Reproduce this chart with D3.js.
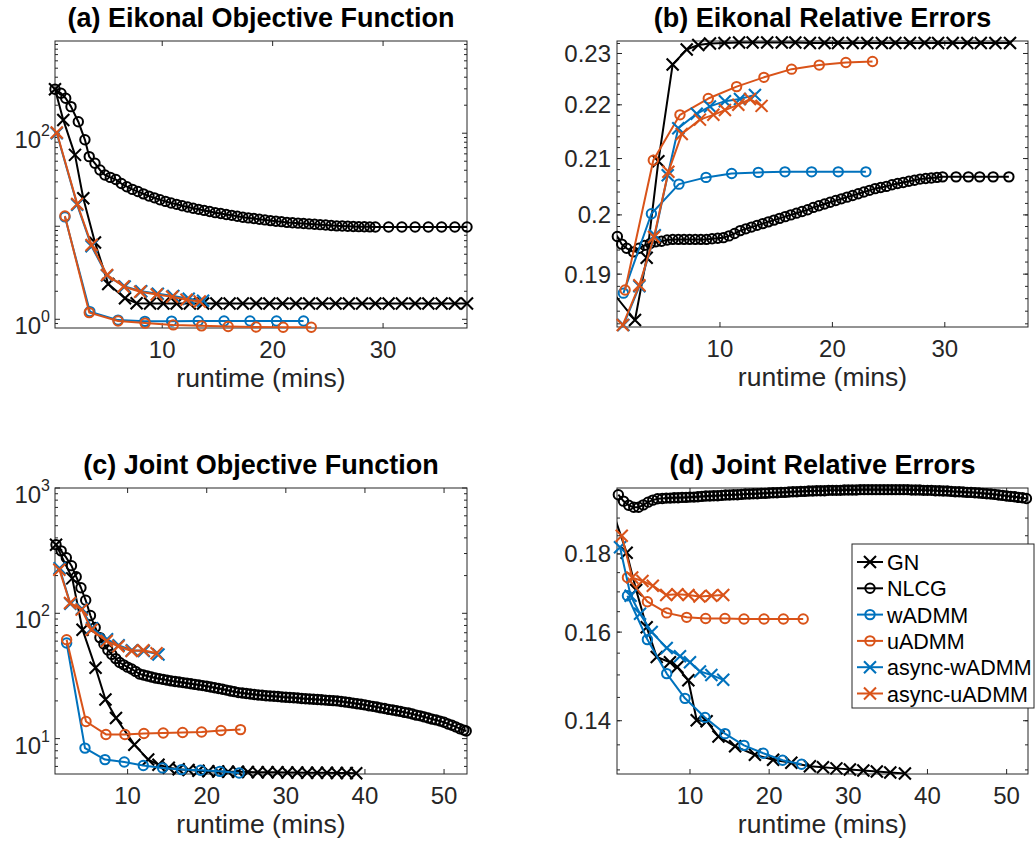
<!DOCTYPE html>
<html>
<head>
<meta charset="utf-8">
<script src="https://cdn.jsdelivr.net/npm/d3@7"></script>
<style>
  body { margin: 0; background: #ffffff; }
  svg { font-family: "Liberation Sans", Arial, Helvetica, sans-serif; }
</style>
</head>
<body>
<div id="chart"></div>
<script>
// ---- series names / legend order ----
const seriesNames = ["GN", "NLCG", "wADMM", "uADMM", "async-wADMM", "async-uADMM"];

// ---- (a) Eikonal objective function : [runtime mins, value] ----
const aGN = [[0.29,297],[1.04,139],[2.10,58.5],[2.85,20],[3.91,6.7],[5.11,2.4],[6.63,1.68],[7.68,1.49],
  [8.9,1.48],[10.1,1.48],[11.3,1.48],[12.5,1.48],[13.7,1.48],[14.9,1.48],[16.1,1.48],[17.3,1.48],
  [18.5,1.48],[19.7,1.48],[20.9,1.48],[22.1,1.48],[23.3,1.48],[24.5,1.48],[25.7,1.48],[26.9,1.48],
  [28.1,1.48],[29.3,1.48],[30.5,1.48],[31.7,1.48],[32.9,1.48],[34.1,1.48],[35.3,1.48],[36.5,1.48],[37.6,1.48]];
const aNLCG = [[0.29,297],[0.83,269],[1.26,238],[1.74,193],[2.40,133],[3.00,85],[3.39,56],[3.91,47.5],
  [4.36,40.3],[4.81,35.6],[5.3,33.5],[5.8,31.8],[6.3,28.8],[6.8,26.6],[7.3,24.9],[7.8,23.6],[8.3,22.3],
  [8.8,21.1],[9.3,20.2],[9.8,19.3],[10.3,18.5],[10.8,17.8],[11.3,17.2],[11.8,16.6],[12.3,16.1],[12.8,15.6],
  [13.3,15.2],[13.8,14.8],[14.3,14.4],[14.8,14.0],[15.3,13.7],[15.8,13.4],[16.3,13.1],[16.8,12.8],
  [17.3,12.5],[17.8,12.3],[18.3,12.1],[18.8,11.9],[19.3,11.7],[19.8,11.5],[20.3,11.3],[20.8,11.2],
  [21.3,11.0],[21.8,10.9],[22.3,10.8],[22.8,10.7],[23.3,10.6],[23.8,10.5],[24.3,10.4],[24.8,10.3],
  [25.3,10.2],[25.8,10.1],[26.3,10.05],[26.8,10.0],[27.3,9.95],[27.8,9.9],[28.3,9.88],[28.8,9.85],
  [29.3,9.82],[30.5,9.8],[31.7,9.8],[32.9,9.8],[34.1,9.8],[35.3,9.8],[36.5,9.8],[37.6,9.8]];
const aWADMM = [[1.19,12.6],[3.45,1.21],[6.0,0.98],[8.43,0.95],[10.85,0.955],[13.26,0.96],[15.6,0.96],
  [17.95,0.96],[20.35,0.96],[22.8,0.96]];
const aUADMM = [[1.19,12.9],[3.39,1.18],[6.0,0.96],[8.45,0.91],[11.0,0.87],[13.56,0.85],[15.97,0.835],
  [18.5,0.825],[20.95,0.82],[23.5,0.82]];
const aAsyncW = [[0.45,100],[2.3,17],[3.6,6.1],[5.0,2.95],[6.6,2.25],[8.1,2.0],[9.6,1.88],[11.0,1.78],
  [12.4,1.66],[13.7,1.58]];
const aAsyncU = [[0.45,102],[2.3,17.4],[3.6,6.3],[5.0,3.0],[6.5,2.25],[8.0,1.98],[9.5,1.85],[10.9,1.75],
  [12.2,1.62],[13.4,1.55]];

// ---- (b) Eikonal relative errors ----
const bGN = [[0.29,0.1874],[2.44,0.1826],[3.48,0.1927],[4.52,0.2095],[5.79,0.2278],[7.04,0.2308],
  [8.07,0.2317],[9.11,0.2320],[10.4,0.2321],[11.7,0.2322],[12.9,0.2322],[14.2,0.2322],[15.5,0.2322],
  [16.7,0.2322],[18.0,0.2321],[19.3,0.2321],[20.5,0.2321],[21.8,0.2321],[23.1,0.2321],[24.4,0.2321],
  [25.6,0.2321],[26.9,0.2321],[28.2,0.2321],[29.4,0.2321],[30.7,0.2321],[32.0,0.2321],[33.2,0.2321],
  [34.5,0.2321],[35.8,0.2321]];
const bNLCG = [[0.29,0.1975],[0.87,0.1963],[1.26,0.1950],[1.7,0.1943],[2.3,0.1937],[2.8,0.1943],
  [3.3,0.1948],[3.8,0.1951],[4.3,0.1954],[4.8,0.1955],[5.3,0.1957],[5.8,0.1958],[6.3,0.1958],[6.8,0.1958],
  [7.3,0.1958],[7.8,0.1958],[8.3,0.1958],[8.8,0.1958],[9.3,0.1959],[9.8,0.1960],[10.3,0.1961],[10.8,0.1964],
  [11.3,0.1968],[11.8,0.1973],[12.3,0.1976],[12.8,0.1979],[13.3,0.1982],[13.8,0.1985],[14.3,0.1988],
  [14.8,0.1991],[15.3,0.1994],[15.8,0.1997],[16.3,0.2000],[16.8,0.2003],[17.3,0.2006],[17.8,0.2009],
  [18.3,0.2013],[18.8,0.2016],[19.3,0.2019],[19.8,0.2022],[20.3,0.2025],[20.8,0.2028],[21.3,0.2031],
  [21.8,0.2034],[22.3,0.2037],[22.8,0.2040],[23.3,0.2043],[23.8,0.2046],[24.3,0.2048],[24.8,0.2050],
  [25.3,0.2053],[25.8,0.2055],[26.3,0.2057],[26.8,0.2059],[27.3,0.2061],[27.8,0.2063],[28.3,0.2064],
  [28.8,0.2065],[29.3,0.2066],[29.8,0.2067],[31.0,0.2067],[32.1,0.2067],[33.1,0.2067],[34.3,0.2067],
  [35.7,0.2067]];
const bWADMM = [[1.41,0.1869],[3.9,0.2002],[6.35,0.2054],[8.76,0.2066],[11.04,0.2073],[13.41,0.2075],
  [15.78,0.2076],[18.15,0.2076],[20.52,0.2076],[22.98,0.2076]];
const bUADMM = [[1.56,0.1874],[4.07,0.2097],[6.44,0.2181],[8.96,0.2212],[11.48,0.2235],[13.91,0.2253],
  [16.37,0.2269],[18.83,0.2277],[21.2,0.2282],[23.57,0.2284]];
const bAsyncW = [[1.41,0.1818],[2.83,0.1880],[4.2,0.1965],[5.35,0.2070],[6.29,0.2156],[7.93,0.2183],
  [9.11,0.2197],[10.44,0.2207],[11.78,0.2211],[13.11,0.2219]];
const bAsyncU = [[1.35,0.1818],[2.83,0.1882],[4.13,0.1962],[5.41,0.2076],[6.6,0.2145],[8.22,0.2172],
  [9.41,0.2181],[10.44,0.2190],[11.63,0.2200],[12.67,0.2211],[13.7,0.2198]];

// ---- (c) Joint objective function ----
const cGN = [[0.95,353],[3.0,190],[4.3,74],[5.95,36.7],[7.2,20.5],[8.53,14.6],[10.85,8.95],[12.6,6.8],
  [13.9,6.2],[15.2,5.85],[16.45,5.7],[17.7,5.62],[18.95,5.55],[20.2,5.5],[21.45,5.47],[22.7,5.45],
  [23.95,5.43],[25.2,5.41],[26.45,5.4],[27.7,5.39],[28.95,5.38],[30.2,5.37],[31.45,5.36],[32.7,5.35],
  [33.95,5.34],[35.2,5.33],[36.45,5.32],[37.7,5.31],[38.9,5.3]];
const cNLCG = [[0.95,353],[1.6,315],[2.25,278],[2.9,240],[3.5,196],[4.1,160],[4.7,127],[5.3,96],[5.9,77],
  [6.5,64],[7.0,57],[7.5,51],[8.0,47],[8.5,43.5],[9.0,40.5],[9.5,38.8],[10.0,37.2],[10.5,35.9],[11.0,34.4],
  [11.5,32.8],[12.0,32.2],[12.5,31.6],[13.0,31.0],[13.5,30.5],[14.0,30.1],[14.5,29.7],[15.0,29.3],
  [15.5,28.9],[16.0,28.6],[16.5,28.3],[17.0,28.0],[17.5,27.7],[18.0,27.4],[18.5,27.1],[19.0,26.8],
  [19.5,26.5],[20.0,26.2],[20.5,25.8],[21.0,25.5],[21.5,25.1],[22.0,24.8],[22.5,24.4],[23.0,24.0],
  [23.5,23.7],[24.0,23.3],[24.5,23.1],[25.0,22.9],[25.5,22.7],[26.0,22.5],[26.5,22.3],[27.0,22.2],
  [27.5,22.0],[28.0,21.9],[28.5,21.8],[29.0,21.7],[29.5,21.5],[30.0,21.4],[30.5,21.3],[31.0,21.2],
  [31.5,21.1],[32.0,20.9],[32.5,20.8],[33.0,20.7],[33.5,20.6],[34.0,20.5],[34.5,20.4],[35.0,20.3],
  [35.5,20.2],[36.0,20.1],[36.5,20.0],[37.0,19.8],[37.5,19.6],[38.0,19.4],[38.5,19.2],[39.0,19.0],
  [39.5,18.8],[40.0,18.6],[40.5,18.3],[41.0,18.1],[41.5,17.9],[42.0,17.6],[42.5,17.4],[43.0,17.1],
  [43.5,16.9],[44.0,16.7],[44.5,16.5],[45.0,16.2],[45.5,16.0],[46.0,15.7],[46.5,15.4],[47.0,15.2],
  [47.5,14.9],[48.0,14.6],[48.5,14.3],[49.0,14.1],[49.5,13.8],[50.0,13.5],[50.5,13.1],[51.0,12.8],
  [51.5,12.4],[52.0,12.0],[52.5,11.7],[52.8,11.5]];
const cWADMM = [[2.29,58],[4.61,8.4],[7.14,6.8],[9.58,6.5],[11.98,6.1],[14.42,5.84],[16.82,5.66],
  [19.22,5.59],[21.66,5.48],[24.1,5.32]];
const cUADMM = [[2.29,61.6],[4.74,13.7],[7.26,10.8],[9.66,10.8],[12.06,11.0],[14.5,11.1],[16.95,11.2],
  [19.35,11.3],[21.8,11.6],[24.27,11.8]];
const cAsyncW = [[1.4,229],[2.76,119],[4.23,109],[5.5,76],[7.4,62],[8.87,55.5],[10.55,50.8],[12.05,50],
  [13.9,47]];
const cAsyncU = [[1.37,223],[2.72,121],[4.19,107],[5.45,74],[7.35,60],[8.82,54.6],[10.5,50],[11.98,50.7],
  [13.66,48]];

// ---- (d) Joint relative errors ----
const dGN = [[0.6,0.1895],[2.0,0.1803],[3.2,0.1705],[4.53,0.1612],[5.8,0.1541],[7.47,0.1529],[8.4,0.1518],
  [9.79,0.1488],[10.85,0.1401],[12.1,0.1399],[13.6,0.1367],[15.7,0.1347],[18.2,0.1330],[20.5,0.1320],
  [22.8,0.1314],[25.15,0.1307],[26.8,0.1305],[28.5,0.1303],[30.2,0.1301],[31.9,0.1299],[33.6,0.1297],
  [35.3,0.1295],[37.15,0.1293]];
const dNLCG = [[0.95,0.1968],[1.6,0.1949],[2.25,0.1937],[2.9,0.1931],[3.5,0.1931],[4.1,0.1938],[4.7,0.1946],
  [5.3,0.1952],[5.9,0.1956],[6.5,0.1957],[7.0,0.1958],[7.5,0.1958],[8.0,0.1959],[8.5,0.1959],[9.0,0.1960],
  [9.5,0.1960],[10.0,0.1961],[10.5,0.1961],[11.0,0.1962],[11.5,0.1963],[12.0,0.1964],[12.5,0.1964],
  [13.0,0.1965],[13.5,0.1965],[14.0,0.1966],[14.5,0.1967],[15.0,0.1967],[15.5,0.1968],[16.0,0.1968],
  [16.5,0.1969],[17.0,0.1970],[17.5,0.1970],[18.0,0.1971],[18.5,0.1971],[19.0,0.1972],[19.5,0.1972],
  [20.0,0.1973],[20.5,0.1974],[21.0,0.1974],[21.5,0.1975],[22.0,0.1975],[22.5,0.1976],[23.0,0.1977],
  [23.5,0.1977],[24.0,0.1978],[24.5,0.1978],[25.0,0.1979],[25.5,0.1979],[26.0,0.1980],[26.5,0.1980],
  [27.0,0.1980],[27.5,0.1981],[28.0,0.1981],[28.5,0.1981],[29.0,0.1981],[29.5,0.1982],[30.0,0.1982],
  [30.5,0.1982],[31.0,0.1982],[31.5,0.1983],[32.0,0.1983],[32.5,0.1983],[33.0,0.1983],[33.5,0.1983],
  [34.0,0.1983],[34.5,0.1983],[35.0,0.1983],[35.5,0.1983],[36.0,0.1983],[36.5,0.1983],[37.0,0.1983],
  [37.5,0.1983],[38.0,0.1982],[38.5,0.1982],[39.0,0.1982],[39.5,0.1981],[40.0,0.1981],[40.5,0.1981],
  [41.0,0.1980],[41.5,0.1980],[42.0,0.1979],[42.5,0.1979],[43.0,0.1978],[43.5,0.1977],[44.0,0.1977],
  [44.5,0.1976],[45.0,0.1975],[45.5,0.1975],[46.0,0.1974],[46.5,0.1973],[47.0,0.1972],[47.5,0.1971],
  [48.0,0.1970],[48.5,0.1969],[49.0,0.1967],[49.5,0.1966],[50.0,0.1964],[50.5,0.1963],[51.0,0.1962],
  [51.5,0.1960],[52.0,0.1959],[52.5,0.1957],[52.8,0.1956]];
const dWADMM = [[2.1,0.1690],[4.62,0.1582],[7.06,0.1503],[9.37,0.1448],[11.9,0.1407],[14.42,0.1373],
  [16.82,0.1349],[19.26,0.1333],[21.7,0.1319],[24.1,0.1311]];
const dUADMM = [[2.1,0.1737],[4.62,0.1675],[7.06,0.1647],[9.58,0.1636],[11.98,0.1633],[14.42,0.1633],
  [16.82,0.1632],[19.35,0.1632],[21.8,0.1632],[24.3,0.1632]];
const dAsyncW = [[1.16,0.1818],[2.5,0.1690],[3.69,0.1645],[5.16,0.1600],[7.06,0.1562],[8.74,0.1543],
  [10.0,0.1529],[11.26,0.1508],[12.7,0.1500],[14.2,0.1489]];
const dAsyncU = [[1.38,0.1850],[2.7,0.1737],[4.0,0.1728],[5.3,0.1716],[7.0,0.1692],[8.4,0.1694],
  [9.8,0.1692],[11.2,0.1688],[12.7,0.1690],[14.2,0.1692]];

// ---- tick values ----
const xTicksEikonal = [10, 20, 30];
const xTicksJoint = [10, 20, 30, 40, 50];
const yTicksA = [1, 10, 100];          // labelled: 10^0, 10^2
const yTicksC = [10, 100, 1000];       // labelled: 10^1, 10^2, 10^3
const yTicksB = [0.19, 0.2, 0.21, 0.22, 0.23];
const yLabelsB = ["0.19", "0.2", "0.21", "0.22", "0.23"];
const yTicksD = [0.14, 0.16, 0.18];
const yLabelsD = ["0.14", "0.16", "0.18"];

// ---- styles ----
const colors = ["#000000", "#000000", "#0072BD", "#D95319", "#0072BD", "#D95319"];
const markers = ["x", "o", "o", "o", "x", "x"];
const axisColor = "#262626";

const W = 1036, H = 845;
const svg = d3.select("#chart").append("svg")
  .attr("width", W)
  .attr("height", H);

// log-axis minor ticks (2..9 x decade)
function logMinor(domain) {
  const out = [];
  for (let e = -2; e <= 4; e++) {
    for (let k = 2; k <= 9; k++) {
      const v = k * Math.pow(10, e);
      if (v >= domain[0] && v <= domain[1]) out.push(v);
    }
  }
  return out;
}
function stepMinor(domain, step) {
  const out = [];
  const start = Math.ceil(domain[0] / step - 1e-9);
  for (let i = start; i * step <= domain[1] + 1e-12; i++) out.push(+(i * step).toFixed(4));
  return out;
}

const panels = [
  { id: "a", title: "(a) Eikonal Objective Function",
    box: { left: 55, right: 467, top: 41, bottom: 328 },
    xDomain: [0.29, 37.6], yDomain: [0.806, 980], xTicks: xTicksEikonal,
    yTicks: yTicksA, yLabel: v => v === 10 ? null : ["10", String(Math.round(Math.log10(v)))],
    yMinor: logMinor([0.806, 980]),
    series: [aGN, aNLCG, aWADMM, aUADMM, aAsyncW, aAsyncU] },
  { id: "b", title: "(b) Eikonal Relative Errors",
    box: { left: 617, right: 1028, top: 41, bottom: 327 },
    xDomain: [0.84, 37.4], yDomain: [0.1815, 0.2325], xTicks: xTicksEikonal,
    yTicks: yTicksB, yLabel: (v, i) => yLabelsB[i],
    yMinor: stepMinor([0.1815, 0.2325], 0.002),
    series: [bGN, bNLCG, bWADMM, bUADMM, bAsyncW, bAsyncU] },
  { id: "c", title: "(c) Joint Objective Function",
    box: { left: 55, right: 467, top: 488, bottom: 774 },
    xDomain: [0.82, 52.9], yDomain: [5.22, 1000], xTicks: xTicksJoint,
    yTicks: yTicksC, yLabel: v => ["10", String(Math.round(Math.log10(v)))],
    yMinor: logMinor([5.22, 1000]),
    series: [cGN, cNLCG, cWADMM, cUADMM, cAsyncW, cAsyncU] },
  { id: "d", title: "(d) Joint Relative Errors",
    box: { left: 617, right: 1028, top: 488, bottom: 774 },
    xDomain: [0.78, 52.7], yDomain: [0.1292, 0.1988], xTicks: xTicksJoint,
    yTicks: yTicksD, yLabel: (v, i) => yLabelsD[i],
    yMinor: stepMinor([0.1292, 0.1988], 0.005),
    series: [dGN, dNLCG, dWADMM, dUADMM, dAsyncW, dAsyncU] }
];

function drawMarker(g, kind, color, cx, cy) {
  if (kind === "o") {
    g.append("circle")
      .attr("cx", cx).attr("cy", cy).attr("r", 4.7)
      .attr("fill", "none").attr("stroke", color).attr("stroke-width", 2);
  } else {
    const s = 6;
    g.append("path")
      .attr("d", `M${cx - s},${cy - s}L${cx + s},${cy + s}M${cx - s},${cy + s}L${cx + s},${cy - s}`)
      .attr("fill", "none").attr("stroke", color).attr("stroke-width", 2.1);
  }
}

panels.forEach(p => {
  const b = p.box;
  const x = d3.scaleLinear().domain(p.xDomain).range([b.left, b.right]);
  const y = d3.scaleLog().domain(p.yDomain).range([b.bottom, b.top]);

  const g = svg.append("g").attr("class", "panel-" + p.id);

  // clip region for lines
  svg.append("clipPath").attr("id", "clip-" + p.id)
    .append("rect")
    .attr("x", b.left).attr("y", b.top)
    .attr("width", b.right - b.left).attr("height", b.bottom - b.top);

  // white plot area
  g.append("rect")
    .attr("x", b.left).attr("y", b.top)
    .attr("width", b.right - b.left).attr("height", b.bottom - b.top)
    .attr("fill", "#ffffff");

  // x ticks (inward, top and bottom) + labels
  p.xTicks.forEach(t => {
    const px = x(t);
    g.append("line").attr("x1", px).attr("x2", px).attr("y1", b.bottom).attr("y2", b.bottom - 5)
      .attr("stroke", axisColor).attr("stroke-width", 1);
    g.append("line").attr("x1", px).attr("x2", px).attr("y1", b.top).attr("y2", b.top + 5)
      .attr("stroke", axisColor).attr("stroke-width", 1);
    g.append("text")
      .attr("x", px).attr("y", b.bottom + 30)
      .attr("text-anchor", "middle")
      .attr("font-size", 24).attr("fill", axisColor)
      .text(t);
  });

  // y minor ticks
  p.yMinor.forEach(t => {
    const py = y(t);
    g.append("line").attr("x1", b.left).attr("x2", b.left + 3).attr("y1", py).attr("y2", py)
      .attr("stroke", axisColor).attr("stroke-width", 1);
    g.append("line").attr("x1", b.right).attr("x2", b.right - 3).attr("y1", py).attr("y2", py)
      .attr("stroke", axisColor).attr("stroke-width", 1);
  });

  // y major ticks + labels
  p.yTicks.forEach((t, i) => {
    const py = y(t);
    g.append("line").attr("x1", b.left).attr("x2", b.left + 5).attr("y1", py).attr("y2", py)
      .attr("stroke", axisColor).attr("stroke-width", 1);
    g.append("line").attr("x1", b.right).attr("x2", b.right - 5).attr("y1", py).attr("y2", py)
      .attr("stroke", axisColor).attr("stroke-width", 1);
    const lab = p.yLabel(t, i);
    if (lab == null) return;
    if (Array.isArray(lab)) {
      const txt = g.append("text")
        .attr("x", b.left - 5).attr("y", py + 15)
        .attr("text-anchor", "end")
        .attr("font-size", 24).attr("fill", axisColor);
      txt.append("tspan").text(lab[0]);
      txt.append("tspan").attr("dy", -12).attr("font-size", 16).text(lab[1]);
    } else {
      g.append("text")
        .attr("x", b.left - 6).attr("y", py + 8.5)
        .attr("text-anchor", "end")
        .attr("font-size", 24).attr("fill", axisColor)
        .text(lab);
    }
  });

  // axes box
  g.append("rect")
    .attr("x", b.left).attr("y", b.top)
    .attr("width", b.right - b.left).attr("height", b.bottom - b.top)
    .attr("fill", "none").attr("stroke", axisColor).attr("stroke-width", 1);

  // series: line then markers, in legend order
  const line = d3.line().x(d => x(d[0])).y(d => y(d[1]));
  p.series.forEach((data, si) => {
    const sg = g.append("g").attr("class", "series s" + si);
    sg.append("path")
      .datum(data)
      .attr("d", line)
      .attr("fill", "none")
      .attr("stroke", colors[si])
      .attr("stroke-width", 2)
      .attr("stroke-linejoin", "round")
      .attr("clip-path", `url(#clip-${p.id})`);
    data.forEach(d => {
      if (d[0] < p.xDomain[0] || d[0] > p.xDomain[1]) return;
      if (d[1] < p.yDomain[0] || d[1] > p.yDomain[1]) return;
      drawMarker(sg, markers[si], colors[si], x(d[0]), y(d[1]));
    });
  });

  // title and x label
  g.append("text")
    .attr("x", (b.left + b.right) / 2).attr("y", b.top - 14)
    .attr("text-anchor", "middle")
    .attr("font-size", 27).attr("font-weight", "bold").attr("fill", "#000000")
    .text(p.title);
  g.append("text")
    .attr("x", (b.left + b.right) / 2).attr("y", b.bottom + 59)
    .attr("text-anchor", "middle")
    .attr("font-size", 26.5).attr("fill", axisColor)
    .text("runtime (mins)");
});

// legend (inside panel d)
const legend = svg.append("g").attr("class", "legend");
legend.append("rect")
  .attr("x", 852).attr("y", 544)
  .attr("width", 182).attr("height", 164)
  .attr("fill", "#ffffff").attr("stroke", axisColor).attr("stroke-width", 1);
seriesNames.forEach((name, i) => {
  const cy = 562 + i * 26.3;
  legend.append("line")
    .attr("x1", 857).attr("x2", 883).attr("y1", cy).attr("y2", cy)
    .attr("stroke", colors[i]).attr("stroke-width", 2);
  drawMarker(legend, markers[i], colors[i], 870, cy);
  legend.append("text")
    .attr("x", 887).attr("y", cy + 8)
    .attr("font-size", 21.5).attr("fill", "#000000")
    .text(name);
});
</script>
</body>
</html>
